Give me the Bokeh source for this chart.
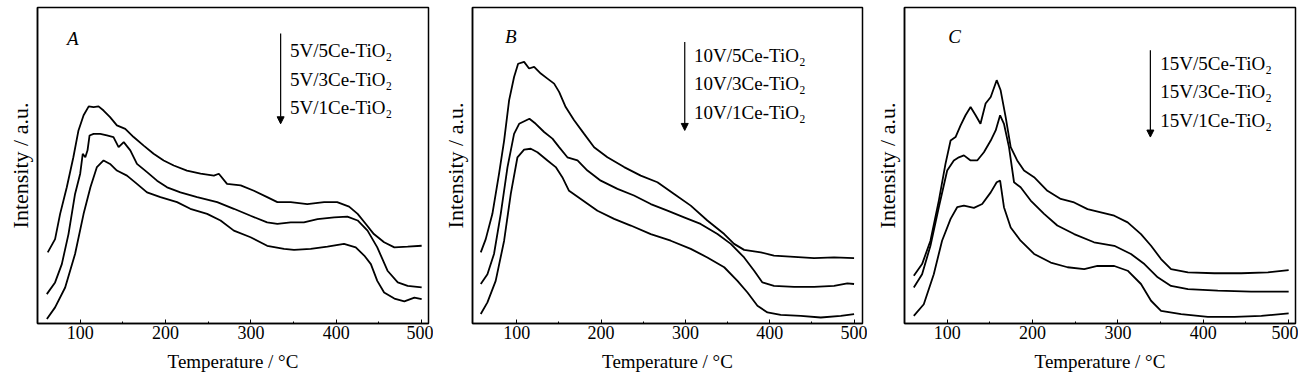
from bokeh.plotting import figure
from bokeh.models import FixedTicker, Arrow, NormalHead, ColumnDataSource, Range1d
from bokeh.layouts import row
from bokeh.core.properties import value
from bokeh.embed import file_html
from bokeh.resources import INLINE

FONT = "Liberation Serif"

# ---------------- Panel A (5V series) ----------------
a_T_5 = [62, 70.6, 76.5, 84.3, 92, 98, 104, 110, 115.7, 121.5, 127.4, 135, 143, 152.8, 162.6, 174.4, 186, 197.8,
         209.6, 225, 241, 256.6, 262.4, 272, 288, 303.5, 319, 331, 346.6, 366, 385.7, 401, 415, 425, 434.6, 444,
         456, 468, 483.6, 500]
a_y_5 = [22.5, 26.7, 34.7, 43.1, 52.6, 61.1, 65.9, 68.7, 68.5, 68.7, 67.4, 65.3, 62.7, 61.6, 59, 56.3, 53.7, 51.6,
         50, 48.4, 47.4, 46.8, 47.4, 44.2, 43.7, 42, 40, 38.4, 38.4, 37.8, 38.4, 38.4, 37, 34.7, 31.5, 28.3,
         25.7, 24.1, 24.3, 24.6]
a_T_3 = [60.9, 70.6, 78.5, 86.3, 94, 100, 103, 106, 108.6, 111, 115.7, 123.5, 131.3, 139, 145, 151, 158.7, 166.5,
         178.3, 190, 201.8, 217.4, 237, 260.5, 280, 299.6, 319, 331, 346.6, 362, 378, 397.5, 413, 425, 436.6,
         448, 460, 472, 483.6, 500]
a_y_3 = [9.3, 13, 18.8, 28.3, 41, 47.4, 53.7, 52.6, 54.8, 59.5, 60, 60, 59.5, 59, 55.8, 57.4, 54.8, 50.5,
         47.9, 45.2, 43.1, 41.5, 40, 38.4, 36.3, 34.1, 32, 31.5, 32, 32, 33, 33.6, 33.8, 32.6, 29.4,
         24.1, 16.7, 13, 11.9, 11.4]
a_T_1 = [61, 70.6, 82.4, 94, 104, 112, 119.6, 127.4, 135, 143, 154.8, 166.5, 178.3, 194, 213.5, 229, 248.7, 264.4,
         280, 299.6, 319, 338.8, 350.5, 370, 389.6, 409, 422.8, 432.7, 440.5, 448, 456, 468, 479.7, 491.5, 500]
a_y_1 = [1.4, 5.1, 11.4, 22, 34.7, 43.1, 49.5, 51.6, 50.5, 48.4, 46.8, 44.2, 41.5, 40, 38.4, 36.3, 34.7, 32.6,
         29.4, 27.3, 24.6, 23.6, 23.3, 23.6, 24.3, 25.2, 24.1, 21.5, 18.8, 13.5, 9.8, 7.9, 7, 8.2, 7.7]

# ---------------- Panel B (10V series) ----------------
b_T_5 = [57.3, 63.2, 71.1, 79, 85, 90.9, 96.8, 101.6, 108.7, 114.6, 120.6, 128.5, 136.4, 144.3, 150.2, 158, 168,
         179.9, 191.7, 207.5, 227.3, 247, 266.8, 286.6, 306.3, 326, 346, 357.7, 369.6, 389.4, 405, 428.9, 452.6,
         476.3, 500]
b_y_5 = [22.5, 26.7, 34.7, 47.4, 57.9, 70.6, 78, 82.2, 82.8, 80.7, 81.2, 79.1, 77.5, 75.9, 73.3, 68.5, 64.3,
         60, 55.8, 52.6, 49.5, 46.8, 44.7, 41, 37.3, 32.6, 28.3, 25.2, 23.3, 22.5, 21.5, 21.1, 20.7,
         20.9, 20.7]
b_T_3 = [57.3, 65.2, 73, 81, 89, 96.8, 102.8, 115, 122.5, 132.4, 142.3, 150.2, 160, 172, 183.8, 199.6, 219.4, 239,
         258.9, 278.7, 298.4, 318, 338, 353.8, 369.6, 381.5, 391.3, 405, 428.9, 452.6, 476.3, 492, 500]
b_y_3 = [12.5, 15.6, 22, 34.7, 49.5, 60, 63.2, 64.8, 63.2, 60.6, 58.5, 55.8, 52.6, 51.6, 48.4, 45.2, 42.6, 40.5,
         37.8, 35.7, 33.6, 31.5, 28.3, 25.2, 20.9, 16.7, 13, 11.9, 11.6, 11.6, 11.9, 12.7, 12.5]
b_T_1 = [57.3, 65.2, 75, 85, 92.9, 100.8, 108.7, 116.6, 124.5, 136.4, 146.2, 154, 162, 175.9, 195.7, 215.4, 235.2,
         258.9, 282.6, 306.3, 326, 346, 361.7, 373.6, 385.4, 397.3, 413, 436.8, 460.5, 484.3, 500]
b_y_1 = [3, 6.7, 13.5, 26.2, 41, 52.6, 55, 55.3, 54.2, 51.6, 49.5, 46.3, 42, 39.4, 35.7, 33.1, 31,
         28.3, 26.2, 23.6, 20.9, 17.8, 13.5, 9.8, 5.6, 3.5, 2.7, 2.4, 1.9, 2.4, 3]

# ---------------- Panel C (15V series) ----------------
c_T_5 = [60.9, 70.6, 80.4, 90.2, 98, 104, 109.8, 115.7, 121.5, 127.4, 133.3, 139, 145, 151, 158, 162.6, 168.5,
         174.4, 182, 190, 201.8, 217.4, 233, 248.7, 264.4, 280, 295.7, 311.4, 327, 338.8, 350.5, 362.2, 382,
         413, 444.4, 475.7, 500]
c_y_5 = [15.1, 18.8, 26.2, 38.9, 50.5, 57.9, 59, 62.7, 65.9, 68.5, 65.9, 63.2, 69.6, 71.7, 77, 73.8, 65.3,
         55.8, 51.6, 48.4, 46.3, 42, 39.4, 38.3, 36.2, 35.2, 34.1, 32, 28.3, 24.6, 20.4, 17.2, 16.2,
         15.9, 15.9, 16.2, 16.9]
c_T_3 = [60.9, 70.6, 80.4, 90.2, 100, 107.8, 113.7, 119.6, 127.4, 135.2, 143, 151, 156.8, 162, 166.5, 172.4,
         178.3, 186, 197.8, 213.5, 229, 248.7, 272, 295.7, 315.3, 331, 346.6, 362.2, 382, 417, 456, 500]
c_y_3 = [11.4, 15.6, 24.6, 36.8, 48.4, 51.6, 52.6, 53.2, 51.6, 51.6, 54.2, 57.9, 61.1, 65.9, 63.2, 55.8,
         44.7, 43.1, 38.9, 34.7, 31, 28.3, 25.7, 24.6, 22, 18.8, 14.6, 11.9, 10.9, 10.4, 10.1, 10.1]
c_T_1 = [60.9, 72.6, 84.3, 94, 104, 111.7, 119.6, 131.3, 141, 151, 158, 162, 166.5, 174.4, 186, 201.8, 221.3,
         241, 260.5, 276, 295.7, 311.4, 327, 338.8, 350.5, 374, 405.3, 436.6, 468, 500]
c_y_1 = [2.4, 6.1, 15.6, 26.2, 33.1, 36.8, 37.3, 36.6, 37.8, 41.5, 44.7, 45.2, 36.8, 30.4, 26.2, 22, 19.3,
         17.8, 17.2, 18.2, 18.2, 16.7, 12.5, 7.2, 4, 3, 2.1, 2.1, 2.4, 3.2]

a_labels = ["5V/5Ce-TiO₂", "5V/3Ce-TiO₂", "5V/1Ce-TiO₂"]
b_labels = ["10V/5Ce-TiO₂", "10V/3Ce-TiO₂", "10V/1Ce-TiO₂"]
c_labels = ["15V/5Ce-TiO₂", "15V/3Ce-TiO₂", "15V/1Ce-TiO₂"]

x_ticks = [100, 200, 300, 400, 500]
x_minor = [150, 250, 350, 450]


def make_panel(curves, labels, letter, letter_pos, arrow_x, arrow_y, text_x, text_ys,
               bl, br, fw, x_start, x_end):
    p = figure(frame_width=fw, frame_height=316, output_backend="svg", toolbar_location=None,
               x_range=Range1d(x_start, x_end), y_range=Range1d(0, 100),
               min_border_left=bl, min_border_right=br, min_border_top=7, min_border_bottom=54)
    p.grid.visible = False
    p.background_fill_color = "white"
    p.border_fill_color = "white"
    p.outline_line_color = "black"
    p.outline_line_width = 1.5

    for T, y in curves:
        p.line(T, y, line_color="black", line_width=1.8)

    xa = p.xaxis[0]
    xa.ticker = FixedTicker(ticks=x_ticks, minor_ticks=x_minor)
    xa.major_tick_in = 4
    xa.major_tick_out = 0
    xa.minor_tick_in = 2
    xa.minor_tick_out = 0
    xa.axis_line_width = 1.5
    xa.major_label_text_font = FONT
    xa.major_label_text_font_size = "18px"
    xa.major_label_text_color = "black"
    xa.major_label_standoff = 2
    xa.axis_label = "Temperature / °C"
    xa.axis_label_text_font = FONT
    xa.axis_label_text_font_size = "19px"
    xa.axis_label_text_font_style = "normal"
    xa.axis_label_text_color = "black"
    xa.axis_label_standoff = 9

    ya = p.yaxis[0]
    ya.ticker = FixedTicker(ticks=[])
    ya.major_tick_out = 0
    ya.major_tick_in = 0
    ya.minor_tick_out = 0
    ya.major_label_standoff = 0
    ya.axis_line_width = 1.5
    ya.axis_label = "Intensity / a.u."
    ya.axis_label_text_font = FONT
    ya.axis_label_text_font_size = "22px"
    ya.axis_label_text_font_style = "normal"
    ya.axis_label_text_color = "black"
    ya.axis_label_standoff = 5

    # panel letter
    p.text(x=[letter_pos[0]], y=[letter_pos[1]], text=[letter], text_font=value(FONT),
           text_font_size="19px", text_font_style="italic", text_color="black",
           text_align="center", text_baseline="middle")

    # legend arrow + labels
    p.add_layout(Arrow(end=NormalHead(size=7, fill_color="black", line_color="black", line_width=1),
                       x_start=arrow_x, y_start=arrow_y[0], x_end=arrow_x, y_end=arrow_y[1],
                       line_color="black", line_width=1.2))
    src = ColumnDataSource(dict(x=[text_x] * 3, y=text_ys, t=labels))
    p.text(x="x", y="y", text="t", source=src, text_font=value(FONT), text_font_size="19px",
           text_color="black", text_align="left", text_baseline="middle")
    return p


pA = make_panel([(a_T_5, a_y_5), (a_T_3, a_y_3), (a_T_1, a_y_1)], a_labels, "A", (91.4, 90.2),
                334.8, (91.8, 63.2), 345.8, [86.3, 77.3, 68.3], 37, 5, 391, 50, 508)
pB = make_panel([(b_T_5, b_y_5), (b_T_3, b_y_3), (b_T_1, b_y_1)], b_labels, "B", (92.9, 90.7),
                299.2, (89.1, 61.1), 310.3, [84.9, 75.9, 66.9], 39, 5, 390, 47.5, 510)
pC = make_panel([(c_T_5, c_y_5), (c_T_3, c_y_3), (c_T_1, c_y_1)], c_labels, "C", (108.6, 90.7),
                338.0, (86.5, 59.0), 349.7, [82.2, 73.3, 64.3], 37, 3, 391, 50, 508)

layout = row(pA, pB, pC)
open("out.html", "w").write(file_html(layout, INLINE))
